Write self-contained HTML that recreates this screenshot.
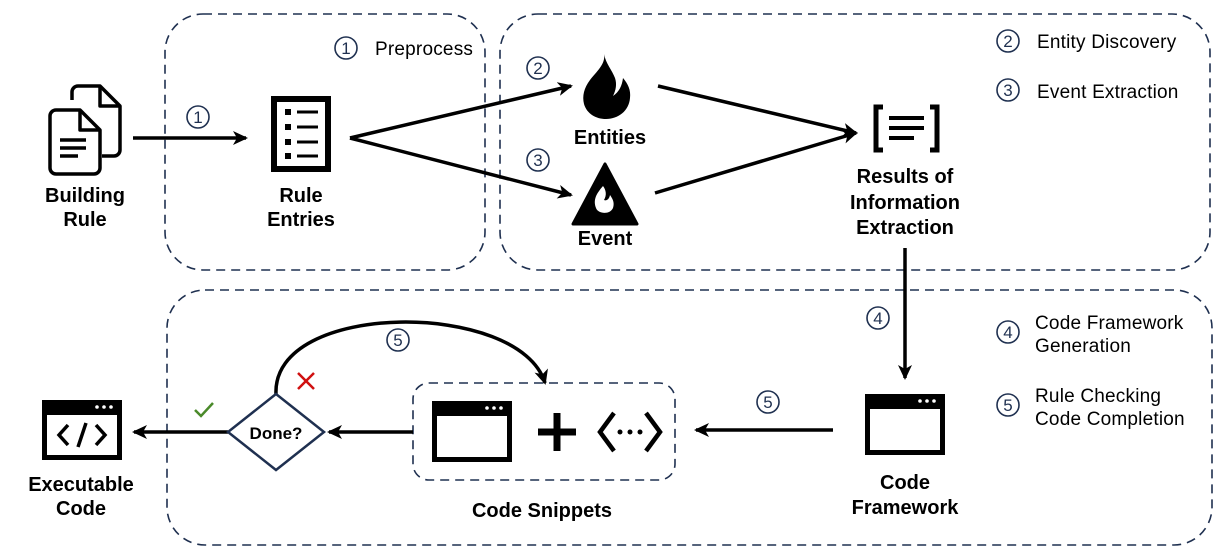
<!DOCTYPE html>
<html><head><meta charset="utf-8"><style>
html,body{margin:0;padding:0;background:#fff;}
svg{display:block;}
text{font-family:"Liberation Sans","DejaVu Sans",sans-serif;}
.b{font-weight:bold;font-size:20px;fill:#000;text-anchor:middle;}
.l{font-size:19px;fill:#000;letter-spacing:0.2px;}
.c{font-size:17px;fill:#1f3050;text-anchor:middle;}
</style></head><body>
<svg width="1228" height="553" viewBox="0 0 1228 553" xmlns="http://www.w3.org/2000/svg">
<defs>
<marker id="ah" markerWidth="16" markerHeight="14" refX="13" refY="7" orient="auto" markerUnits="userSpaceOnUse">
<path d="M0,0 L15,7 L0,14 L4,7 Z" fill="#000"/></marker>
<g id="circ"><circle r="11" fill="none" stroke="#1f3050" stroke-width="1.6"/></g>
</defs>
<g fill="none" stroke="#1f3050" stroke-width="1.6" stroke-dasharray="9,6">
<rect x="165" y="14" width="320" height="256" rx="38"/>
<rect x="500" y="14" width="710" height="256" rx="38"/>
<rect x="167" y="290" width="1045" height="255" rx="38"/>
<rect x="413" y="383" width="262" height="97" rx="16"/>
</g>
<g>
<use href="#circ" x="346" y="48"/><text class="c" x="346" y="54">1</text>
<text class="l" x="375" y="55">Preprocess</text>
<use href="#circ" x="1008" y="41"/><text class="c" x="1008" y="47">2</text>
<text class="l" x="1037" y="48">Entity Discovery</text>
<use href="#circ" x="1008" y="90"/><text class="c" x="1008" y="96">3</text>
<text class="l" x="1037" y="98">Event Extraction</text>
<use href="#circ" x="1008" y="332"/><text class="c" x="1008" y="338">4</text>
<text class="l" x="1035" y="329">Code Framework</text>
<text class="l" x="1035" y="352">Generation</text>
<use href="#circ" x="1008" y="405"/><text class="c" x="1008" y="411">5</text>
<text class="l" x="1035" y="402">Rule Checking</text>
<text class="l" x="1035" y="425">Code Completion</text>
<use href="#circ" x="198" y="117"/><text class="c" x="198" y="123">1</text>
<use href="#circ" x="538" y="68"/><text class="c" x="538" y="74">2</text>
<use href="#circ" x="538" y="160"/><text class="c" x="538" y="166">3</text>
<use href="#circ" x="878" y="318"/><text class="c" x="878" y="324">4</text>
<use href="#circ" x="768" y="402"/><text class="c" x="768" y="408">5</text>
<use href="#circ" x="398" y="340"/><text class="c" x="398" y="346">5</text>
</g>
<g stroke="#000" stroke-width="3.5" fill="none" marker-end="url(#ah)">
<line x1="133" y1="138" x2="246" y2="138"/>
<line x1="350" y1="138" x2="571" y2="86"/>
<line x1="350" y1="138" x2="571" y2="195"/>
<line x1="658" y1="86" x2="856" y2="133"/>
<line x1="655" y1="193" x2="856" y2="133"/>
<line x1="905" y1="248" x2="905" y2="378"/>
<line x1="833" y1="430" x2="696" y2="430"/>
<line x1="413" y1="432" x2="329" y2="432"/>
<line x1="228" y1="432" x2="134" y2="432"/>
<path d="M276,394 C272,300 520,300 545,383"/>
</g>
<g fill="none" stroke="#000" stroke-width="3.5" stroke-linejoin="round">
<path d="M72,100 V92 a6,6 0 0 1 6,-6 H100 L120,106 V150 a6,6 0 0 1 -6,6 H102"/>
<path d="M100,86 V106 H120"/>
<path d="M56,110 H80 L100,130 V168 a6,6 0 0 1 -6,6 H56 a6,6 0 0 1 -6,-6 V116 a6,6 0 0 1 6,-6 Z"/>
<path d="M80,110 V130 H100"/>
<path d="M60,140 H86 M60,148 H86 M60,156 H78"/>
</g>
<text class="b" x="85" y="202">Building</text>
<text class="b" x="85" y="226">Rule</text>
<rect x="274" y="99" width="54" height="70" fill="none" stroke="#000" stroke-width="6"/>
<g fill="#000"><rect x="285" y="109" width="6" height="6"/><rect x="285" y="124" width="6" height="6"/><rect x="285" y="139" width="6" height="6"/><rect x="285" y="153" width="6" height="6"/></g>
<g stroke="#000" stroke-width="3"><line x1="297" y1="112" x2="318" y2="112"/><line x1="297" y1="127" x2="318" y2="127"/><line x1="297" y1="142" x2="318" y2="142"/><line x1="297" y1="156" x2="318" y2="156"/></g>
<text class="b" x="301" y="202">Rule</text>
<text class="b" x="301" y="226">Entries</text>
<!-- entities fire -->
<path d="M604,54 C606,64 596,72 590,80 C584,88 582,96 584,104 C587,114 596,119 606,119 C618,119 629,111 630,98 C631,90 628,84 623,78 C622,86 619,92 613,96 C616,90 617,84 615,78 C612,70 606,64 604,54 Z" fill="#000"/>
<text class="b" x="610" y="144">Entities</text>
<path d="M605,164 L637,224 L573,224 Z" fill="#000" stroke="#000" stroke-width="3" stroke-linejoin="round"/>
<path d="M603,186 C596,194 593,200 596,208 C598,214 610,215 613,208 C615,202 612,198 610,195 C609,200 606,201 604,200 C607,195 606,190 603,186 Z" fill="#fff"/>
<text class="b" x="605" y="245">Event</text>
<g fill="none" stroke="#000" stroke-width="5"><path d="M883,107 H876 V150 H883"/><path d="M930,107 H937 V150 H930"/></g>
<g stroke="#000" stroke-width="4"><line x1="889" y1="118" x2="924" y2="118"/><line x1="889" y1="128" x2="924" y2="128"/><line x1="889" y1="138" x2="914" y2="138"/></g>
<text class="b" x="905" y="183">Results of</text>
<text class="b" x="905" y="209">Information</text>
<text class="b" x="905" y="234">Extraction</text>
<rect x="865" y="394" width="80" height="61" fill="#000"/><rect x="870" y="409" width="70" height="41" fill="#fff"/>
<g fill="#fff"><circle cx="920" cy="401" r="1.8"/><circle cx="927" cy="401" r="1.8"/><circle cx="934" cy="401" r="1.8"/></g>
<text class="b" x="905" y="489">Code</text>
<text class="b" x="905" y="514">Framework</text>
<rect x="432" y="401" width="80" height="61" fill="#000"/><rect x="437" y="416" width="70" height="41" fill="#fff"/>
<g fill="#fff"><circle cx="487" cy="408" r="1.8"/><circle cx="494" cy="408" r="1.8"/><circle cx="501" cy="408" r="1.8"/></g>
<g stroke="#000" stroke-width="7"><line x1="538" y1="432" x2="576" y2="432"/><line x1="557" y1="413" x2="557" y2="451"/></g>
<g fill="none" stroke="#000" stroke-width="4.5"><path d="M614,413 L600,432 L614,451"/><path d="M646,413 L660,432 L646,451"/></g>
<g fill="#000"><circle cx="620" cy="432" r="2.5"/><circle cx="630" cy="432" r="2.5"/><circle cx="640" cy="432" r="2.5"/></g>
<text class="b" x="542" y="517">Code Snippets</text>
<path d="M276,394 L324,432 L276,470 L228,432 Z" fill="#fff" stroke="#1f3050" stroke-width="2.5"/>
<text x="276" y="439" style="font-weight:bold;font-size:17px;text-anchor:middle">Done?</text>
<path d="M195,410 L201,416 L213,403" fill="none" stroke="#4a8a2a" stroke-width="2.5"/>
<path d="M298,373 L314,389 M314,373 L298,389" stroke="#d01010" stroke-width="2.5"/>
<rect x="42" y="400" width="80" height="60" fill="#000"/><rect x="47" y="415" width="70" height="40" fill="#fff"/>
<g fill="#fff"><circle cx="97" cy="407" r="1.8"/><circle cx="104" cy="407" r="1.8"/><circle cx="111" cy="407" r="1.8"/></g>
<g fill="none" stroke="#000" stroke-width="3.5"><path d="M68,425 L59,435 L68,445"/><path d="M96,425 L105,435 L96,445"/><path d="M86,423 L78,447"/></g>
<text class="b" x="81" y="491">Executable</text>
<text class="b" x="81" y="515">Code</text>
</svg>
</body></html>
